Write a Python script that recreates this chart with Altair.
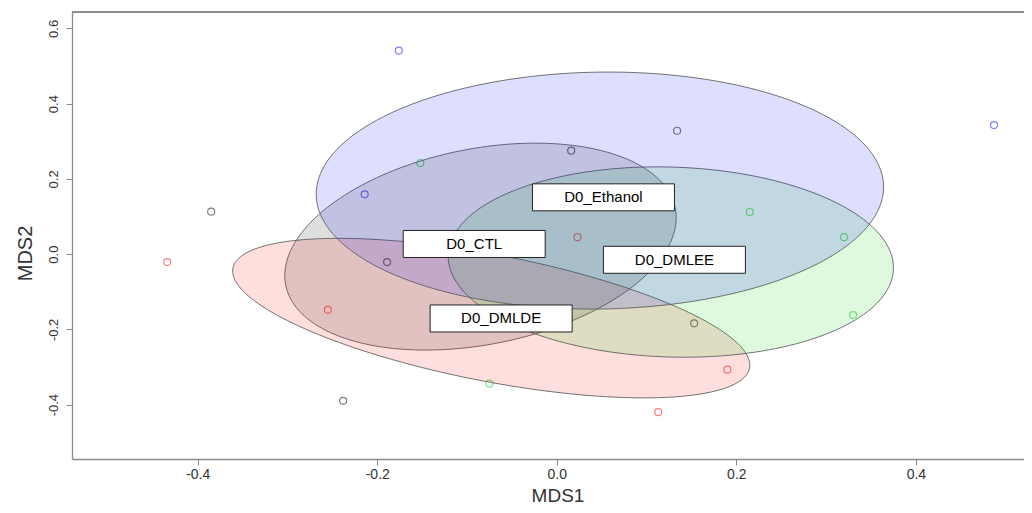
import altair as alt
import numpy as np
import pandas as pd

# ---- data ----
groups = ["D0_CTL", "D0_DMLDE", "D0_DMLEE", "D0_Ethanol"]
colors = ["black", "red", "#00CD00", "blue"]

ctl_x = [-0.385, 0.134, 0.016, -0.189, -0.238, 0.153]
ctl_y = [0.113, 0.328, 0.275, -0.021, -0.390, -0.184]
dmlde_x = [-0.434, -0.255, 0.023, 0.190, 0.113]
dmlde_y = [-0.021, -0.148, 0.045, -0.307, -0.420]
dmlee_x = [-0.152, 0.215, 0.320, 0.330, -0.075]
dmlee_y = [0.242, 0.112, 0.045, -0.162, -0.344]
eth_x = [-0.176, -0.214, 0.487]
eth_y = [0.541, 0.159, 0.343]

# ellipse (kind = "sd") parameters per group: centre, sd_x, sd_y, correlation
ell_cx = [-0.085, -0.073, 0.127, 0.048]
ell_cy = [0.020, -0.170, -0.021, 0.169]
ell_sx = [0.218, 0.288, 0.248, 0.316]
ell_sy = [0.275, 0.212, 0.253, 0.315]
ell_r = [0.28, -0.59, -0.06, 0.03]

# label positions
lab_x = [-0.092, -0.062, 0.131, 0.052]
lab_y = [0.027, -0.171, -0.015, 0.151]

x_ticks = [-0.4, -0.2, 0.0, 0.2, 0.4]
y_ticks = [-0.4, -0.2, 0.0, 0.2, 0.4, 0.6]
x_domain = [-0.540, 0.5204]
y_domain = [-0.5445, 0.6436]

# ---- tables ----
pts = pd.DataFrame({
    "x": ctl_x + dmlde_x + dmlee_x + eth_x,
    "y": ctl_y + dmlde_y + dmlee_y + eth_y,
    "g": [groups[0]] * len(ctl_x) + [groups[1]] * len(dmlde_x)
         + [groups[2]] * len(dmlee_x) + [groups[3]] * len(eth_x),
})

t = np.linspace(0, 2 * np.pi, 181)
ell_frames = []
for k, gname in enumerate(groups):
    r = ell_r[k]
    ex = ell_cx[k] + ell_sx[k] * np.cos(t)
    ey = ell_cy[k] + ell_sy[k] * (r * np.cos(t) + np.sqrt(1 - r * r) * np.sin(t))
    ell_frames.append(pd.DataFrame({"x": ex, "y": ey, "i": np.arange(len(t)), "g": gname}))

labs = pd.DataFrame({"x": lab_x, "y": lab_y, "g": groups})

W, H = 952, 447
FONT = "Liberation Sans"

xs = alt.Scale(domain=x_domain, nice=False, zero=False)
ys = alt.Scale(domain=y_domain, nice=False, zero=False)

xaxis = alt.Axis(
    values=x_ticks, grid=False, title="MDS1",
    labelExpr="datum.value < 0 ? '-' + format(-datum.value, '.1f') : format(datum.value, '.1f')",
    labelFont=FONT, labelFontSize=14, labelColor="#333", labelPadding=2, labelBaseline="top",
    tickSize=6, tickColor="#888", domainColor="#8c8c8c", domainWidth=1.3,
    titleFont=FONT, titleFontSize=19, titleFontWeight="normal", titleColor="#333",
    titleX=485.5, titleY=42, titleAlign="center", titleBaseline="alphabetic",
)
yaxis = alt.Axis(
    values=y_ticks, grid=False, title="MDS2",
    labelExpr="datum.value < 0 ? '-' + format(-datum.value, '.1f') : format(datum.value, '.1f')",
    labelFont=FONT, labelFontSize=13, labelColor="#333", labelAngle=270,
    labelAlign="center", labelBaseline="alphabetic", labelPadding=9,
    tickSize=6, tickColor="#888", domainColor="#8c8c8c", domainWidth=1.3,
    titleFont=FONT, titleFontSize=20, titleFontWeight="normal", titleColor="#333",
    titleX=-41, titleY=241, titleAngle=270, titleAlign="center", titleBaseline="alphabetic",
)

X = alt.X("x:Q", scale=xs, axis=xaxis)
Y = alt.Y("y:Q", scale=ys, axis=yaxis)

points = alt.Chart(pts).mark_point(shape="circle", filled=False, size=49, strokeWidth=1.2, opacity=0.5).encode(
    x=X, y=Y,
    color=alt.Color("g:N", scale=alt.Scale(domain=groups, range=colors), legend=None),
)

layers = [points]
for k, gname in enumerate(groups):
    layers.append(
        alt.Chart(ell_frames[k]).mark_line(
            fill=colors[k], fillOpacity=0.13, stroke="#5a5a5a", strokeWidth=1, strokeOpacity=0.85
        ).encode(x=X, y=Y, order="i:Q")
    )

boxes = alt.Chart(labs).mark_rect(
    width=142, height=27, fill="white", stroke="#222", strokeWidth=1
).encode(x=X, y=Y)
texts = alt.Chart(labs).mark_text(
    font=FONT, fontSize=15, color="black", align="center", baseline="middle"
).encode(x=X, y=Y, text="g:N")

top_rule = alt.Chart(labs).mark_rule(color="#8c8c8c", strokeWidth=1.3).encode(
    x=alt.value(0), x2=alt.value(W), y=alt.value(0)
)

chart = alt.layer(*layers, boxes, texts, top_rule).properties(
    width=W, height=H,
    autosize=alt.AutoSizeParams(type="none"),
    padding={"left": 64, "top": 4, "right": 0, "bottom": 46},
).configure_view(stroke=None)

chart.save("out.html", embed_options={"renderer": "svg", "actions": False})
